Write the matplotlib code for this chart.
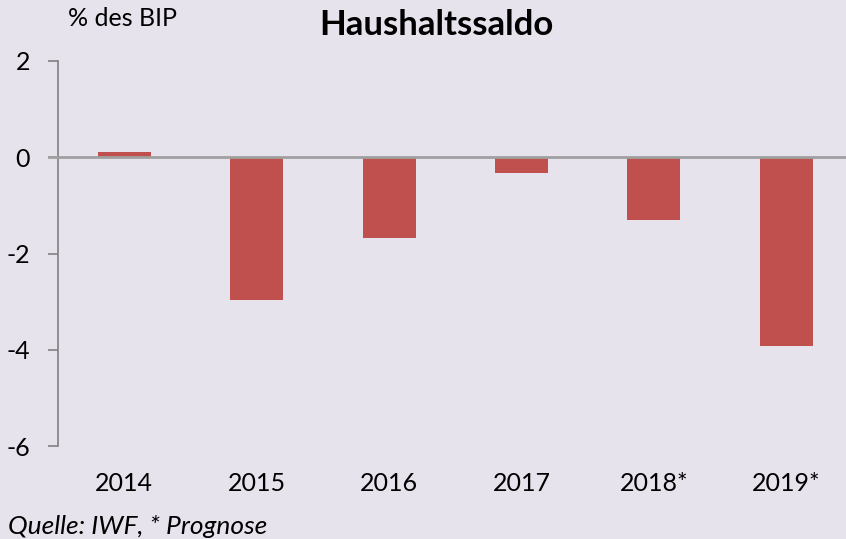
import matplotlib
matplotlib.use("Agg")
import matplotlib.pyplot as plt

categories = ["2014", "2015", "2016", "2017", "2018*", "2019*"]
values = [0.1, -2.97, -1.67, -0.33, -1.3, -3.92]
yticks = [2, 0, -2, -4, -6]

bg = "#E6E3EC"
plt.rcParams['font.family'] = ['Lato', 'DejaVu Sans']

fig = plt.figure(figsize=(8.46, 5.39), dpi=100, facecolor=bg)
W, H = 846, 539
ax = fig.add_axes([58 / W, 1 - 446 / H, (W - 58) / W, (446 - 61) / H])
ax.set_facecolor(bg)

x = list(range(len(categories)))
ax.bar(x, values, width=0.4, color="#C0504D", zorder=2)
ax.set_xlim(-0.5, 5.45)
ax.set_ylim(-6, 2)
ax.set_yticks(yticks)
ax.set_yticklabels([str(v) for v in yticks], fontsize=18)
ax.set_xticks(x)
ax.set_xticklabels(categories, fontsize=18)
ax.tick_params(axis='x', length=0, pad=19)
ax.tick_params(axis='y', length=7, width=1.2, color="#808080", pad=13)
for s in ["top", "right", "bottom"]:
    ax.spines[s].set_visible(False)
ax.spines["left"].set_color("#808080")
ax.spines["left"].set_linewidth(1.2)
ax.axhline(0, color="#A0A0A0", lw=2, zorder=3, xmin=-0.012, clip_on=False)

fig.text(436 / W, 1 - 25 / H, "Haushaltssaldo", ha="center", va="center",
         fontsize=25, fontweight="bold")
fig.text(68 / W, 1 - 19 / H, "% des BIP", ha="left", va="center", fontsize=18)
fig.text(8 / W, 1 - 527 / H, "Quelle: IWF, * Prognose", ha="left", va="center",
         fontsize=19, style="italic")

fig.savefig("out.png", dpi=100, facecolor=bg)
